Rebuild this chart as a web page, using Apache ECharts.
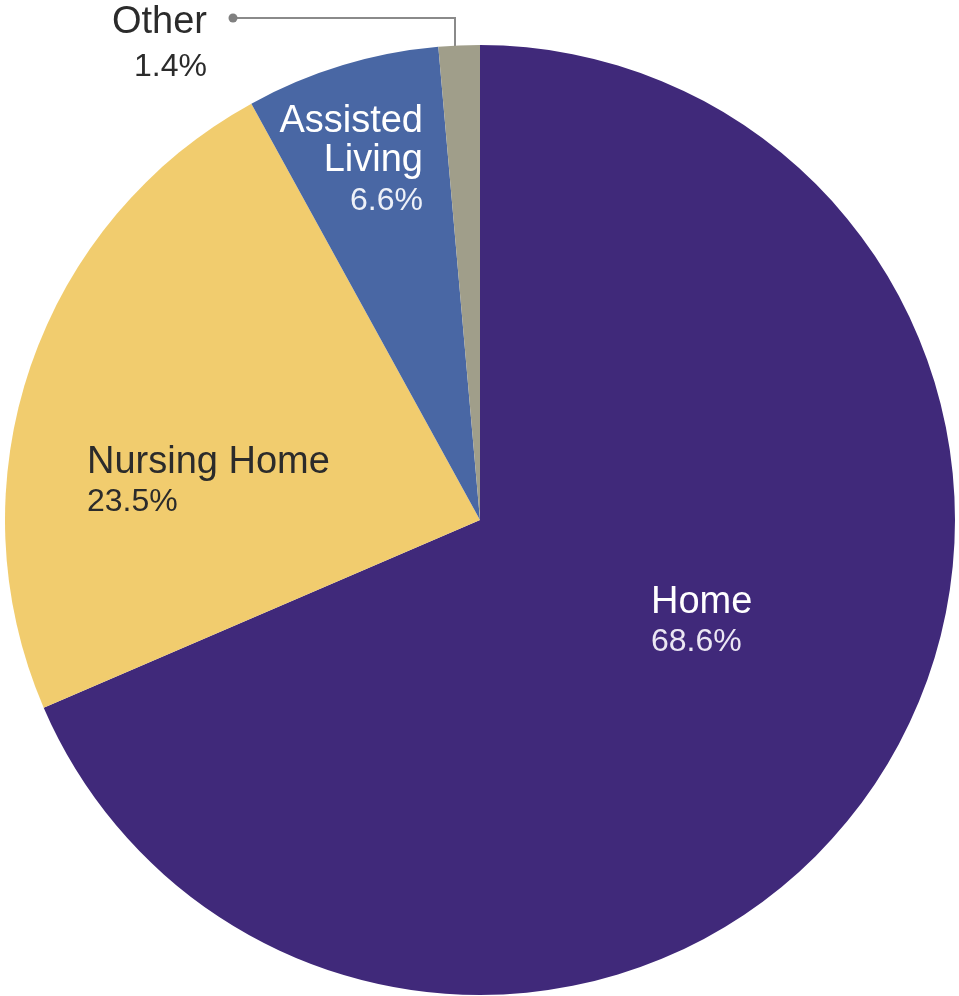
<!DOCTYPE html>
<html>
<head>
<meta charset="utf-8">
<script src="https://cdn.jsdelivr.net/npm/echarts@6/dist/echarts.min.js"></script>
<style>
  html, body { margin: 0; padding: 0; background: #ffffff; }
  #chart { width: 959px; height: 996px; }
</style>
</head>
<body>
<div id="chart"></div>
<script>
// Where people live — share by setting
const categories = ['Home', 'Nursing Home', 'Assisted Living', 'Other'];
const shares = [68.6, 23.5, 6.6, 1.4];
const shareLabels = ['68.6%', '23.5%', '6.6%', '1.4%'];
const nameLabels = ['Home', 'Nursing Home', 'Assisted\nLiving', 'Other'];

const sliceColors = ['#40297a', '#f1cc6e', '#4967a4', '#a09e8a'];
const nameColors = ['#ffffff', '#2b2b2b', '#ffffff', '#2b2b2b'];
const pctColors = ['#ebe7f3', '#2b2b2b', '#eef1f8', '#2b2b2b'];

// label anchor placement per slice
const labelPlace = [
  { x: 651, y: 623, align: 'left' },
  { x: 87, y: 483, align: 'left' },
  { x: 423, y: 162, align: 'right' },
  { x: 207, y: 45, align: 'right' }
];
const otherLine = [[455, 57], [455, 18], [233, 18]];

const FONT = '"Liberation Sans", Arial, sans-serif';

const chart = echarts.init(document.getElementById('chart'), null, { renderer: 'canvas' });

const data = categories.map((c, i) => ({
  name: c,
  value: shares[i],
  itemStyle: { color: sliceColors[i] },
  label: {
    show: true,
    position: i === 3 ? 'outside' : 'inside',
    formatter: () => nameLabels[i].split('\n').map(s => '{n|' + s + '}').join('\n') + '\n{p|' + shareLabels[i] + '}',
    rich: {
      n: { fontFamily: FONT, fontSize: 38, color: nameColors[i], lineHeight: i === 3 ? 44 : 39, align: labelPlace[i].align },
      p: { fontFamily: FONT, fontSize: 32, color: pctColors[i], lineHeight: i === 3 ? 44 : 41, align: labelPlace[i].align }
    }
  },
  labelLine: {
    show: i === 3,
    lineStyle: { color: '#8a8a8a', width: 2 }
  }
}));

chart.setOption({
  animation: false,
  backgroundColor: '#ffffff',
  series: [{
    type: 'pie',
    center: [480, 520],
    radius: 475,
    startAngle: 90,
    clockwise: true,
    avoidLabelOverlap: false,
    itemStyle: { borderWidth: 0 },
    emphasis: { disabled: true },
    labelLayout: (params) => {
      const p = labelPlace[params.dataIndex];
      const out = { x: p.x, y: p.y, align: p.align, verticalAlign: 'middle' };
      if (params.dataIndex === 3) out.labelLinePoints = otherLine;
      return out;
    },
    data: data
  }],
  graphic: [{
    type: 'circle',
    shape: { cx: otherLine[2][0], cy: otherLine[2][1], r: 4.5 },
    style: { fill: '#808080' },
    z: 10
  }]
});
</script>
</body>
</html>
